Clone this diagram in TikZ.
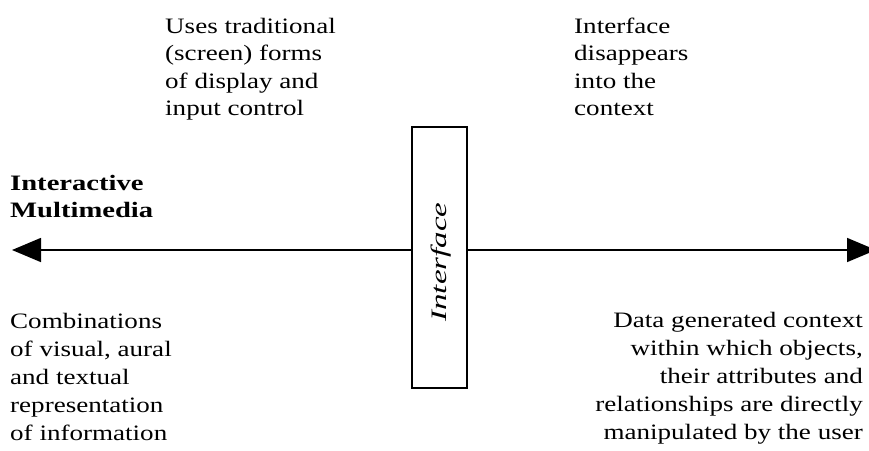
\documentclass[tikz,border=0pt]{standalone}
\usepackage{fontspec}
\setmainfont{Liberation Serif}
\usetikzlibrary{arrows.meta}
\newcommand\lblock[2]{\scalebox{#1}[1]{\begin{tabular}[t]{@{}l@{}}#2\end{tabular}}}
\newcommand\rblock[2]{\scalebox{#1}[1]{\begin{tabular}[t]{@{}r@{}}#2\end{tabular}}}
\begin{document}
\begin{tikzpicture}[x=1pt,y=-1pt,
  txt/.style={inner sep=0pt,font=\fontsize{22}{27.5}\selectfont},
  boldtxt/.style={inner sep=0pt,font=\fontsize{22}{27}\selectfont\bfseries},
  spine/.style={line width=1.6pt,-{Triangle[length=29pt,width=24pt]}},
  ifbox/.style={draw,line width=1.6pt,fill=white,minimum width=55pt,minimum height=261pt,inner sep=0pt}]
\useasboundingbox (0,0) rectangle (869,450);
\clip (0,0) rectangle (869,450);
\coordinate (L) at (12,250);
\coordinate (R) at (876,250);
\node[ifbox] (iface) at (439.5,257.5) {};
\node[rotate=90,inner sep=0pt] (iflabel) at (441,262) {\scalebox{1.5}[1]{\fontsize{22}{24}\selectfont\itshape Interface}};
\draw[spine] (iface.west |- L) -- (L);
\draw[spine] (iface.east |- R) -- (R);
\node[txt,anchor=base west] (tl) at (165,33) {\lblock{1.23}{Uses traditional\\(screen) forms\\of display and\\input control}};
\node[txt,anchor=base west] (tr) at (574,33) {\lblock{1.23}{Interface\\disappears\\into the\\context}};
\node[boldtxt,anchor=base west] (im) at (10,190) {\lblock{1.3}{Interactive\\Multimedia}};
\node[txt,anchor=base west,font=\fontsize{22}{28}\selectfont] (bl) at (10,328) {\lblock{1.23}{Combinations\\of visual, aural\\and textual\\representation\\of information}};
\node[txt,anchor=base east,font=\fontsize{22}{28}\selectfont] (br) at (863,327) {\rblock{1.23}{Data generated context\\within which objects,\\their attributes and\\relationships are directly\\manipulated by the user}};
\end{tikzpicture}
\end{document}
